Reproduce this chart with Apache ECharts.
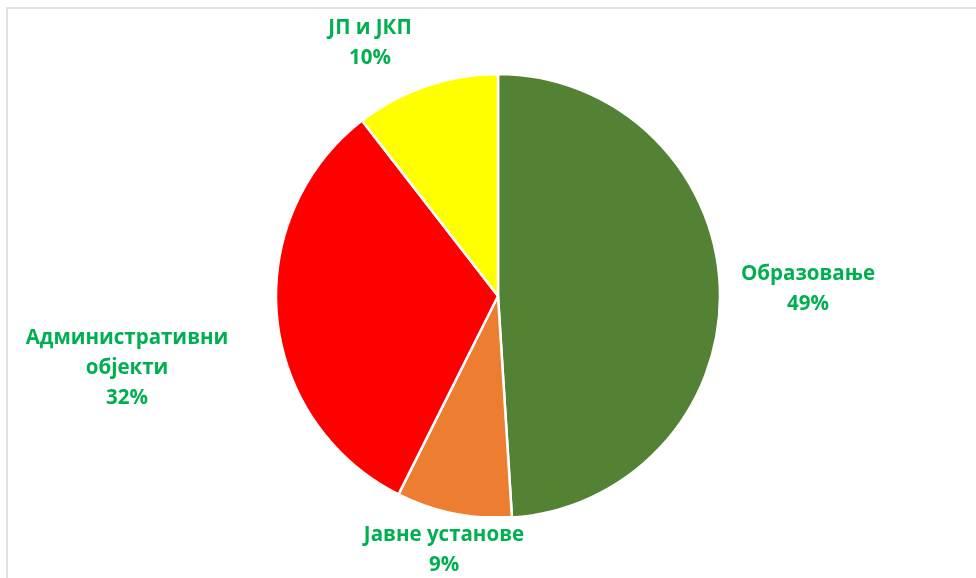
<!DOCTYPE html>
<html>
<head>
<meta charset="utf-8">
<script src="https://cdn.jsdelivr.net/npm/echarts@6/dist/echarts.min.js"></script>
<style>
  html, body { margin: 0; padding: 0; background: #ffffff; }
  #chart { width: 976px; height: 578px; }
</style>
</head>
<body>
<div id="chart"></div>
<script>
// Data
const categories = ['Образовање', 'Јавне установе', 'Административни\nобјекти', 'ЈП и ЈКП'];
const sliceValues = [49.0, 8.4, 32.1, 10.5];      // slice sizes as drawn
const labelPercents = [49, 9, 32, 10];            // percentages printed on labels
const sliceColors = ['#548235', '#ED7D31', '#FF0000', '#FFFF00'];

// label centre positions (layout only)
const labelPos = [[808, 289], [444, 550], [127, 368], [370, 43]];

const chart = echarts.init(document.getElementById('chart'), null, { renderer: 'canvas' });

const seriesData = categories.map((c, i) => ({
  name: c,
  value: sliceValues[i],
  itemStyle: { color: sliceColors[i] }
}));

chart.setOption({
  animation: false,
  backgroundColor: '#ffffff',
  graphic: [{
    type: 'rect',
    z: 0,
    shape: { x: 7, y: 8, width: 1000, height: 600 },
    style: { fill: 'none', stroke: '#d9d9d9', lineWidth: 1.5 }
  }],
  series: [{
    type: 'pie',
    center: [498, 296],
    radius: 222,
    startAngle: 90,
    clockwise: true,
    avoidLabelOverlap: false,
    itemStyle: { borderColor: '#ffffff', borderWidth: 2.5 },
    label: {
      show: true,
      position: 'outside',
      formatter: p => p.name + '\n' + labelPercents[p.dataIndex] + '%',
      color: '#00B050',
      fontFamily: 'Open Sans',
      fontWeight: 'bold',
      fontSize: 20.5,
      lineHeight: 30,
      align: 'center',
      backgroundColor: '#ffffff',
      padding: [4, 6, 4, 6]
    },
    labelLine: { show: false },
    labelLayout: params => ({
      x: labelPos[params.dataIndex][0],
      y: labelPos[params.dataIndex][1],
      align: 'center',
      verticalAlign: 'middle'
    }),
    emphasis: { disabled: true },
    data: seriesData
  }]
});
</script>
</body>
</html>
